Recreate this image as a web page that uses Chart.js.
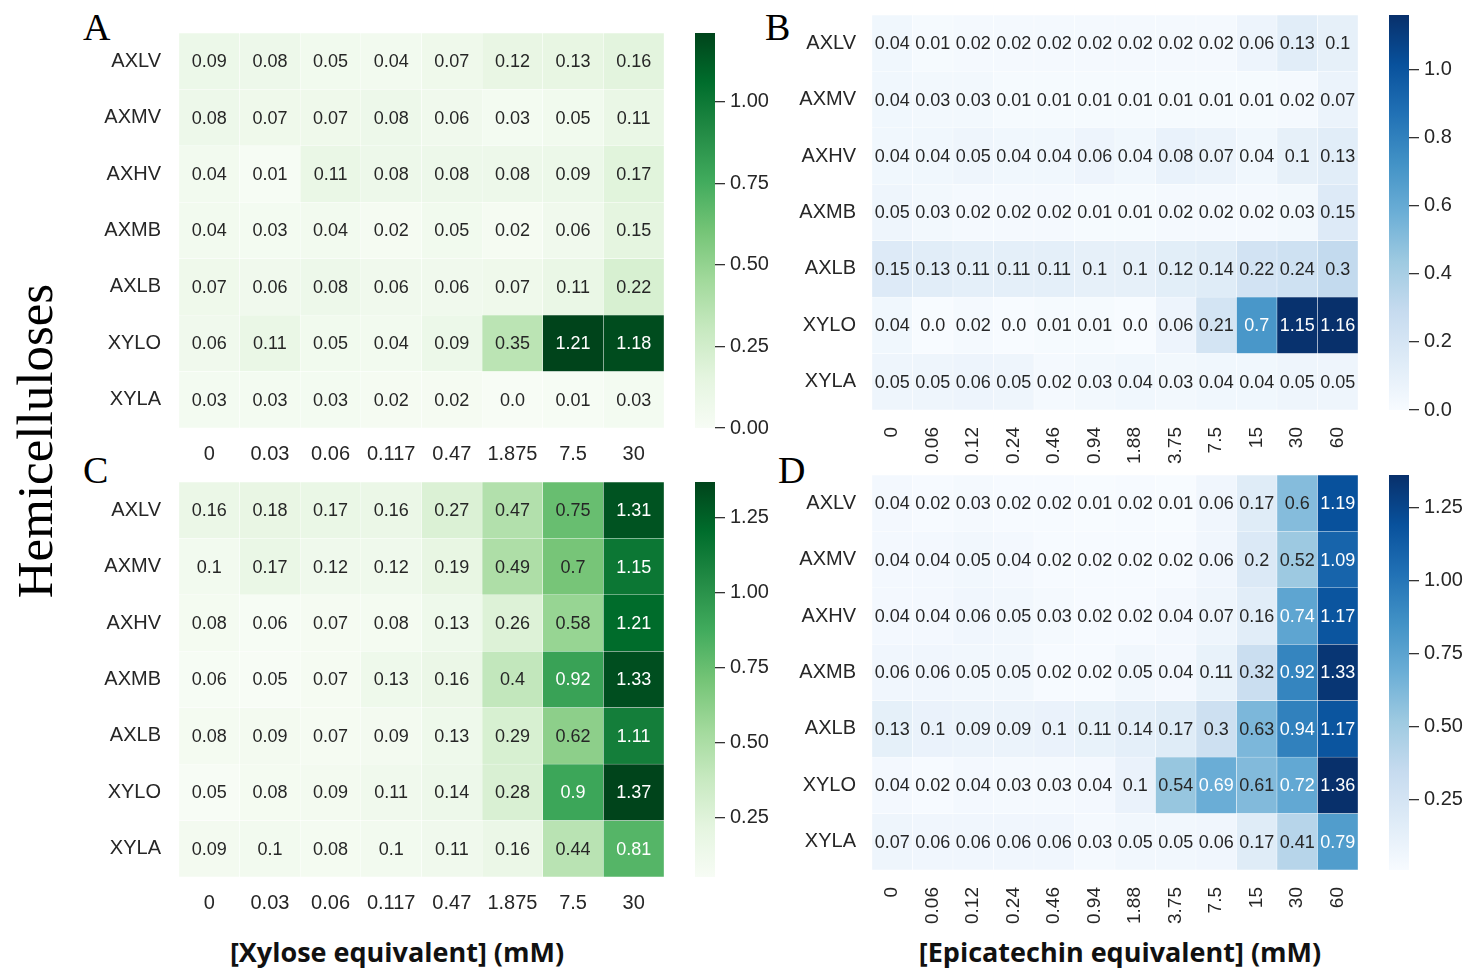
<!DOCTYPE html>
<html>
<head>
<meta charset="utf-8">
<script src="https://cdn.jsdelivr.net/npm/chart.js@4.4.1/dist/chart.umd.min.js"></script>
<style>
  html, body { margin: 0; padding: 0; background: #ffffff; width: 1467px; height: 970px; overflow: hidden; }
  .box { position: absolute; }
  .panel { position: absolute; font-family: "Liberation Serif", "Times New Roman", serif; font-size: 38px; line-height: 1; color: #000; }
  .ylab { position: absolute; font-family: "Liberation Serif", "Times New Roman", serif; font-size: 51px; line-height: 1; color: #000;
          white-space: nowrap; transform: translate(-50%, -50%) rotate(-90deg); }
  .xlab { position: absolute; font-family: "Open Sans", "Noto Sans", sans-serif; font-weight: 700; font-size: 27px; line-height: 1;
          color: #111; white-space: nowrap; transform: translate(-50%, -50%); }
</style>
</head>
<body>
<div class="panel" style="left:83px;top:8px">A</div>
<div class="panel" style="left:765px;top:8px">B</div>
<div class="panel" style="left:83px;top:451px">C</div>
<div class="panel" style="left:778px;top:451px">D</div>
<div class="ylab" style="left:35px;top:441px">Hemicelluloses</div>
<div class="xlab" style="left:397px;top:951px">[Xylose equivalent] (mM)</div>
<div class="xlab" style="left:1120px;top:951px">[Epicatechin equivalent] (mM)</div>

<div class="box" style="left:69px;top:33px;width:595px;height:435px"><canvas id="heatA"></canvas></div>
<div class="box" style="left:780px;top:15px;width:578px;height:455px"><canvas id="heatB"></canvas></div>
<div class="box" style="left:69px;top:482px;width:595px;height:435px"><canvas id="heatC"></canvas></div>
<div class="box" style="left:780px;top:475px;width:578px;height:455px"><canvas id="heatD"></canvas></div>

<div class="box" style="left:695px;top:18px;width:110px;height:425px"><canvas id="barA"></canvas></div>
<div class="box" style="left:1389px;top:0px;width:78px;height:425px"><canvas id="barB"></canvas></div>
<div class="box" style="left:695px;top:467px;width:110px;height:425px"><canvas id="barC"></canvas></div>
<div class="box" style="left:1389px;top:460px;width:78px;height:425px"><canvas id="barD"></canvas></div>

<script>
// ---- data ----
const rowLabels = ['AXLV', 'AXMV', 'AXHV', 'AXMB', 'AXLB', 'XYLO', 'XYLA'];
const xyloseDoses = ['0', '0.03', '0.06', '0.117', '0.47', '1.875', '7.5', '30'];
const epicatechinDoses = ['0', '0.06', '0.12', '0.24', '0.46', '0.94', '1.88', '3.75', '7.5', '15', '30', '60'];

const valuesA = [
  [0.09, 0.08, 0.05, 0.04, 0.07, 0.12, 0.13, 0.16],
  [0.08, 0.07, 0.07, 0.08, 0.06, 0.03, 0.05, 0.11],
  [0.04, 0.01, 0.11, 0.08, 0.08, 0.08, 0.09, 0.17],
  [0.04, 0.03, 0.04, 0.02, 0.05, 0.02, 0.06, 0.15],
  [0.07, 0.06, 0.08, 0.06, 0.06, 0.07, 0.11, 0.22],
  [0.06, 0.11, 0.05, 0.04, 0.09, 0.35, 1.21, 1.18],
  [0.03, 0.03, 0.03, 0.02, 0.02, 0.0, 0.01, 0.03]
];
const valuesB = [
  [0.04, 0.01, 0.02, 0.02, 0.02, 0.02, 0.02, 0.02, 0.02, 0.06, 0.13, 0.1],
  [0.04, 0.03, 0.03, 0.01, 0.01, 0.01, 0.01, 0.01, 0.01, 0.01, 0.02, 0.07],
  [0.04, 0.04, 0.05, 0.04, 0.04, 0.06, 0.04, 0.08, 0.07, 0.04, 0.1, 0.13],
  [0.05, 0.03, 0.02, 0.02, 0.02, 0.01, 0.01, 0.02, 0.02, 0.02, 0.03, 0.15],
  [0.15, 0.13, 0.11, 0.11, 0.11, 0.1, 0.1, 0.12, 0.14, 0.22, 0.24, 0.3],
  [0.04, 0.0, 0.02, 0.0, 0.01, 0.01, 0.0, 0.06, 0.21, 0.7, 1.15, 1.16],
  [0.05, 0.05, 0.06, 0.05, 0.02, 0.03, 0.04, 0.03, 0.04, 0.04, 0.05, 0.05]
];
const valuesC = [
  [0.16, 0.18, 0.17, 0.16, 0.27, 0.47, 0.75, 1.31],
  [0.1, 0.17, 0.12, 0.12, 0.19, 0.49, 0.7, 1.15],
  [0.08, 0.06, 0.07, 0.08, 0.13, 0.26, 0.58, 1.21],
  [0.06, 0.05, 0.07, 0.13, 0.16, 0.4, 0.92, 1.33],
  [0.08, 0.09, 0.07, 0.09, 0.13, 0.29, 0.62, 1.11],
  [0.05, 0.08, 0.09, 0.11, 0.14, 0.28, 0.9, 1.37],
  [0.09, 0.1, 0.08, 0.1, 0.11, 0.16, 0.44, 0.81]
];
const valuesD = [
  [0.04, 0.02, 0.03, 0.02, 0.02, 0.01, 0.02, 0.01, 0.06, 0.17, 0.6, 1.19],
  [0.04, 0.04, 0.05, 0.04, 0.02, 0.02, 0.02, 0.02, 0.06, 0.2, 0.52, 1.09],
  [0.04, 0.04, 0.06, 0.05, 0.03, 0.02, 0.02, 0.04, 0.07, 0.16, 0.74, 1.17],
  [0.06, 0.06, 0.05, 0.05, 0.02, 0.02, 0.05, 0.04, 0.11, 0.32, 0.92, 1.33],
  [0.13, 0.1, 0.09, 0.09, 0.1, 0.11, 0.14, 0.17, 0.3, 0.63, 0.94, 1.17],
  [0.04, 0.02, 0.04, 0.03, 0.03, 0.04, 0.1, 0.54, 0.69, 0.61, 0.72, 1.36],
  [0.07, 0.06, 0.06, 0.06, 0.06, 0.03, 0.05, 0.05, 0.06, 0.17, 0.41, 0.79]
];

const colorbarTicksA = [0.0, 0.25, 0.5, 0.75, 1.0];
const colorbarTicksB = [0.0, 0.2, 0.4, 0.6, 0.8, 1.0];
const colorbarTicksC = [0.25, 0.5, 0.75, 1.0, 1.25];
const colorbarTicksD = [0.25, 0.5, 0.75, 1.0, 1.25];

// ---- colour maps (ColorBrewer sequential, 9 classes) ----
const GREENS = ['#f7fcf5', '#e5f5e0', '#c7e9c0', '#a1d99b', '#74c476', '#41ab5d', '#238b45', '#006d2c', '#00441b'];
const BLUES  = ['#f7fbff', '#deebf7', '#c6dbef', '#9ecae1', '#6baed6', '#4292c6', '#2171b5', '#08519c', '#08306b'];

const hexRgb = h => [1, 3, 5].map(i => parseInt(h.slice(i, i + 2), 16));
function sampleMap(stops, t) {
  t = Math.min(1, Math.max(0, t));
  const pos = t * (stops.length - 1);
  const i = Math.min(stops.length - 2, Math.floor(pos));
  const f = pos - i;
  const a = hexRgb(stops[i]), b = hexRgb(stops[i + 1]);
  return a.map((c, k) => Math.round(c + (b[k] - c) * f));
}
function luminance(rgb) {
  const lin = rgb.map(c => { c /= 255; return c <= 0.03928 ? c / 12.92 : Math.pow((c + 0.055) / 1.055, 2.4); });
  return 0.2126 * lin[0] + 0.7152 * lin[1] + 0.0722 * lin[2];
}
const fmtValue = v => Number.isInteger(v) ? v.toFixed(1) : String(v);

const SANS = '"Liberation Sans", Arial, sans-serif';
const INK = '#262626';

// scales keep their full box: no extra room reserved for overhanging labels
function noOverhang(s) { s.paddingTop = 0; s.paddingBottom = 0; s.paddingLeft = 0; s.paddingRight = 0; }

// writes each cell's value in its centre, dark or white depending on the fill
const cellText = {
  id: 'cellText',
  afterDatasetsDraw(chart, args, opts) {
    const ctx = chart.ctx;
    ctx.save();
    ctx.font = opts.size + 'px ' + SANS;
    ctx.textAlign = 'center';
    ctx.textBaseline = 'middle';
    chart.data.datasets.forEach((ds, di) => {
      chart.getDatasetMeta(di).data.forEach((bar, i) => {
        const p = bar.getCenterPoint();
        ctx.fillStyle = ds.cellLum[i] > 0.408 ? INK : '#ffffff';
        ctx.fillText(fmtValue(ds.cellValues[i]), p.x, p.y + 1);
      });
    });
    ctx.restore();
  }
};

// paints the colour ramp inside the colour bar's plot area
const rampFill = {
  id: 'rampFill',
  beforeDatasetsDraw(chart, args, opts) {
    const a = chart.chartArea, ctx = chart.ctx;
    const g = ctx.createLinearGradient(0, a.bottom, 0, a.top);
    opts.stops.forEach((c, i) => g.addColorStop(i / (opts.stops.length - 1), c));
    ctx.save();
    ctx.fillStyle = g;
    ctx.fillRect(a.left, a.top, a.right - a.left, a.bottom - a.top);
    ctx.restore();
  }
};

function heatmap(id, cols, values, stops, rotated, cellSize) {
  const flat = values.flat();
  const vmin = Math.min(...flat), vmax = Math.max(...flat);
  const datasets = values.map((row, r) => {
    const rgb = row.map(v => sampleMap(stops, (v - vmin) / (vmax - vmin)));
    return {
      label: rowLabels[r],
      data: row.map(() => 1),           // every cell spans one row band of the stack
      cellValues: row,
      cellLum: rgb.map(luminance),
      backgroundColor: rgb.map(c => 'rgb(' + c.join(',') + ')'),
      borderColor: 'rgba(255,255,255,0.75)',
      borderWidth: 0.5,
      borderSkipped: false,
      barPercentage: 1,
      categoryPercentage: 1,
      yAxisID: 'band'
    };
  }).reverse();                          // bottom row is stacked first

  new Chart(document.getElementById(id), {
    type: 'bar',
    data: { labels: cols, datasets },
    options: {
      responsive: true,
      maintainAspectRatio: false,
      animation: false,
      events: [],
      layout: { padding: 0 },
      plugins: { legend: { display: false }, tooltip: { enabled: false }, cellText: { size: cellSize } },
      scales: {
        x: {
          type: 'category', stacked: true, offset: true,
          grid: { display: false, drawTicks: false }, border: { display: false },
          afterFit: s => { s.height = rotated ? 60 : 40; noOverhang(s); },
          ticks: {
            autoSkip: false, color: INK, padding: rotated ? 17 : 14,
            minRotation: rotated ? 90 : 0, maxRotation: rotated ? 90 : 0,
            font: { family: SANS, size: rotated ? 19 : 20 }
          }
        },
        band: { type: 'linear', stacked: true, min: 0, max: rowLabels.length, display: false },
        rows: {
          type: 'category', labels: rowLabels, offset: true, position: 'left',
          grid: { display: false, drawTicks: false }, border: { display: false },
          afterFit: s => { s.width = rotated ? 92 : 110; noOverhang(s); },
          ticks: { color: INK, padding: rotated ? 16 : 18, font: { family: SANS, size: 20 } }
        }
      }
    },
    plugins: [cellText]
  });
  return { vmin, vmax };
}

function colorbar(id, stops, range, ticks, decimals) {
  new Chart(document.getElementById(id), {
    type: 'scatter',
    data: { datasets: [] },
    options: {
      responsive: true,
      maintainAspectRatio: false,
      animation: false,
      events: [],
      layout: { padding: { top: 15, bottom: 15, left: 0, right: 0 } },
      plugins: { legend: { display: false }, tooltip: { enabled: false }, rampFill: { stops } },
      scales: {
        x: { display: false },
        y: {
          position: 'right', min: range.vmin, max: range.vmax, bounds: 'data',
          afterBuildTicks: s => { s.ticks = ticks.map(v => ({ value: v })); },
          afterFit: s => { s.width = s.chart.width - 20; noOverhang(s); },
          grid: { drawOnChartArea: false, drawTicks: true, tickLength: 10, color: '#333333', lineWidth: 1.3 },
          border: { display: false },
          ticks: { color: INK, padding: 5, font: { family: SANS, size: 20 }, callback: v => v.toFixed(decimals) }
        }
      }
    },
    plugins: [rampFill]
  });
}

const rA = heatmap('heatA', xyloseDoses, valuesA, GREENS, false, 18);
const rB = heatmap('heatB', epicatechinDoses, valuesB, BLUES, true, 18);
const rC = heatmap('heatC', xyloseDoses, valuesC, GREENS, false, 18);
const rD = heatmap('heatD', epicatechinDoses, valuesD, BLUES, true, 18);

colorbar('barA', GREENS, rA, colorbarTicksA, 2);
colorbar('barB', BLUES, rB, colorbarTicksB, 1);
colorbar('barC', GREENS, rC, colorbarTicksC, 2);
colorbar('barD', BLUES, rD, colorbarTicksD, 2);
</script>
</body>
</html>
